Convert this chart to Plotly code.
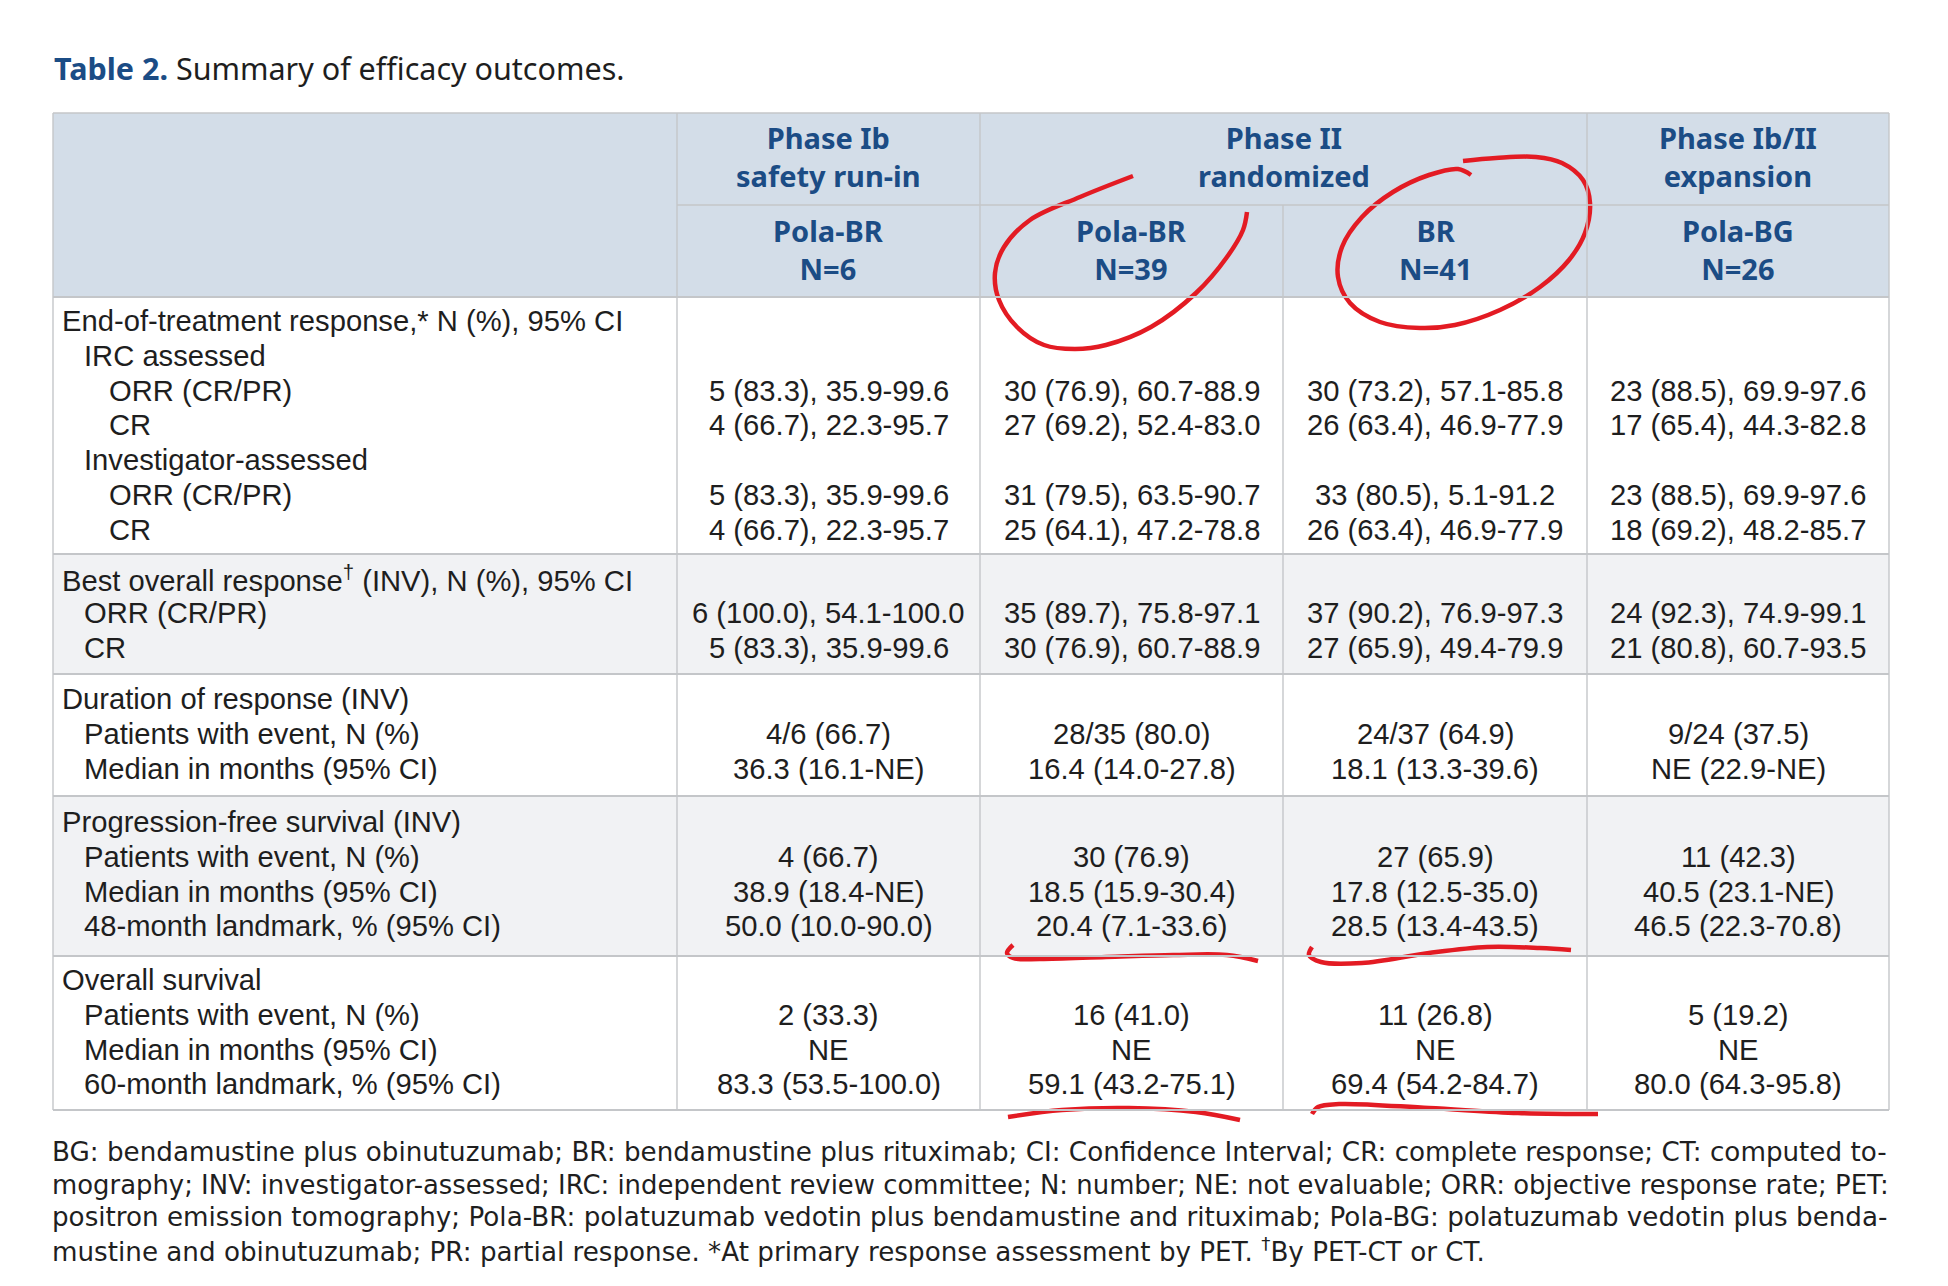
import plotly.graph_objects as go

# ---------------- data ----------------
title_bold = "Table 2."
title_rest = " Summary of efficacy outcomes."

top_headers = ["Phase Ib<br>safety run-in", "Phase II<br>randomized", "Phase Ib/II<br>expansion"]
arm_names = ["Pola-BR", "Pola-BR", "BR", "Pola-BG"]
arm_n = ["N=6", "N=39", "N=41", "N=26"]

row_labels = [
    "End-of-treatment response,* N (%), 95% CI", "IRC assessed", "ORR (CR/PR)", "CR",
    "Investigator-assessed", "ORR (CR/PR)", "CR",
    "Best overall response<sup>†</sup> (INV), N (%), 95% CI", "ORR (CR/PR)", "CR",
    "Duration of response (INV)", "Patients with event, N (%)", "Median in months (95% CI)",
    "Progression-free survival (INV)", "Patients with event, N (%)", "Median in months (95% CI)",
    "48-month landmark, % (95% CI)",
    "Overall survival", "Patients with event, N (%)", "Median in months (95% CI)",
    "60-month landmark, % (95% CI)",
]
row_indent = [0, 1, 2, 2, 1, 2, 2, 0, 1, 1, 0, 1, 1, 0, 1, 1, 1, 0, 1, 1, 1]
row_group = [0, 0, 0, 0, 0, 0, 0, 1, 1, 1, 2, 2, 2, 3, 3, 3, 3, 4, 4, 4, 4]

pola_br_ib = ["", "", "5 (83.3), 35.9-99.6", "4 (66.7), 22.3-95.7", "", "5 (83.3), 35.9-99.6",
              "4 (66.7), 22.3-95.7", "", "6 (100.0), 54.1-100.0", "5 (83.3), 35.9-99.6", "",
              "4/6 (66.7)", "36.3 (16.1-NE)", "", "4 (66.7)", "38.9 (18.4-NE)", "50.0 (10.0-90.0)",
              "", "2 (33.3)", "NE", "83.3 (53.5-100.0)"]
pola_br_ii = ["", "", "30 (76.9), 60.7-88.9", "27 (69.2), 52.4-83.0", "", "31 (79.5), 63.5-90.7",
              "25 (64.1), 47.2-78.8", "", "35 (89.7), 75.8-97.1", "30 (76.9), 60.7-88.9", "",
              "28/35 (80.0)", "16.4 (14.0-27.8)", "", "30 (76.9)", "18.5 (15.9-30.4)", "20.4 (7.1-33.6)",
              "", "16 (41.0)", "NE", "59.1 (43.2-75.1)"]
br_ii = ["", "", "30 (73.2), 57.1-85.8", "26 (63.4), 46.9-77.9", "", "33 (80.5), 5.1-91.2",
         "26 (63.4), 46.9-77.9", "", "37 (90.2), 76.9-97.3", "27 (65.9), 49.4-79.9", "",
         "24/37 (64.9)", "18.1 (13.3-39.6)", "", "27 (65.9)", "17.8 (12.5-35.0)", "28.5 (13.4-43.5)",
         "", "11 (26.8)", "NE", "69.4 (54.2-84.7)"]
pola_bg = ["", "", "23 (88.5), 69.9-97.6", "17 (65.4), 44.3-82.8", "", "23 (88.5), 69.9-97.6",
           "18 (69.2), 48.2-85.7", "", "24 (92.3), 74.9-99.1", "21 (80.8), 60.7-93.5", "",
           "9/24 (37.5)", "NE (22.9-NE)", "", "11 (42.3)", "40.5 (23.1-NE)", "46.5 (22.3-70.8)",
           "", "5 (19.2)", "NE", "80.0 (64.3-95.8)"]
columns = [pola_br_ib, pola_br_ii, br_ii, pola_bg]

footnote_lines = [
    "BG: bendamustine plus obinutuzumab; BR: bendamustine plus rituximab; CI: Confidence Interval; CR: complete response; CT: computed to-",
    "mography; INV: investigator-assessed; IRC: independent review committee; N: number; NE: not evaluable; ORR: objective response rate; PET:",
    "positron emission tomography; Pola-BR: polatuzumab vedotin plus bendamustine and rituximab; Pola-BG: polatuzumab vedotin plus benda-",
    "mustine and obinutuzumab; PR: partial response. *At primary response assessment by PET. <sup>†</sup>By PET-CT or CT.",
]

# hand-drawn red annotation strokes (pixel coordinates of the page)
stroke_circle_polabr_x = [1133, 1080, 1030, 1004, 995, 999, 1017, 1044, 1075, 1106, 1151, 1196, 1227, 1243, 1247]
stroke_circle_polabr_y = [176, 197, 220, 247, 273, 300, 327, 345, 349, 345, 327, 293, 257, 230, 212]
stroke_circle_br_x = [1463, 1496, 1536, 1562, 1583, 1590, 1585, 1569, 1540, 1500, 1455, 1420, 1380, 1350, 1338, 1342, 1362, 1393, 1429, 1458, 1471]
stroke_circle_br_y = [161, 158, 157, 163, 180, 203, 233, 260, 287, 310, 325, 328, 322, 303, 277, 247, 217, 192, 175, 169, 175]
stroke_ul_pfs_polabr_x = [1013, 1007, 1013, 1040, 1106, 1173, 1227, 1258]
stroke_ul_pfs_polabr_y = [945, 953, 958, 959, 957, 955, 955, 961]
stroke_ul_pfs_br_x = [1312, 1309, 1321, 1362, 1429, 1487, 1540, 1571]
stroke_ul_pfs_br_y = [947, 955, 962, 963, 953, 947, 948, 950]
stroke_ul_os_polabr_x = [1008, 1062, 1129, 1196, 1240]
stroke_ul_os_polabr_y = [1117, 1110, 1108, 1112, 1120]
stroke_ul_os_br_x = [1312, 1318, 1339, 1429, 1518, 1598]
stroke_ul_os_br_y = [1114, 1107, 1104, 1108, 1113, 1114]

# ---------------- layout constants ----------------
W, H = 1948, 1286
X0, X1 = 53, 1889
col_edges = [677, 980, 1283, 1587, 1889]
head_top, head_mid, head_bot = 113, 205, 297
top_head_cy, arm_head_cy = 156.5, 249
group_edges = [297, 554, 674, 796, 956, 1110]
group_first = [24, 24, 25, 26, 24]
pitch = 34.8
indent_x = [59.5, 82, 107]
foot_y = [1152, 1184.5, 1217, 1249.5]
foot_size = [26.2, 25.9, 26.2, 26.2]

HEADER_FILL = "#d3dde8"
ALT_FILL = "#f1f2f4"
GRID = "#c4c6c9"
BLUE = "#1b4c85"
TEXT = "#1e1e1e"
RED = "#e31b23"
BODY_FONT = "Liberation Sans, Arial, sans-serif"
HEAD_FONT = "Noto Sans, sans-serif"
FOOT_FONT = "DejaVu Sans, sans-serif"

fig = go.Figure()
shapes = []
annotations = []

# backgrounds
shapes.append(dict(type="rect", x0=X0, x1=X1, y0=head_top, y1=head_bot, fillcolor=HEADER_FILL, line_width=0, layer="below"))
for g in range(5):
    if g % 2 == 1:
        shapes.append(dict(type="rect", x0=X0, x1=X1, y0=group_edges[g], y1=group_edges[g + 1],
                           fillcolor=ALT_FILL, line_width=0, layer="below"))

def hline(y, xa, xb, w=1.6):
    shapes.append(dict(type="line", x0=xa, x1=xb, y0=y, y1=y, line=dict(color=GRID, width=w)))

def vline(x, ya, yb, w=1.4):
    shapes.append(dict(type="line", x0=x, x1=x, y0=ya, y1=yb, line=dict(color=GRID, width=w)))

# grid
hline(head_top, X0, X1)
hline(head_mid, col_edges[0], X1)
for y in group_edges:
    hline(y, X0, X1, 2)
vline(X0, head_top, group_edges[-1])
vline(X1, head_top, group_edges[-1])
vline(col_edges[0], head_top, group_edges[-1])
vline(col_edges[1], head_top, group_edges[-1])
vline(col_edges[3], head_top, group_edges[-1])
vline(col_edges[2], head_mid, group_edges[-1])

# title
annotations.append(dict(x=X0 - 1, y=68, xref="x", yref="y", xanchor="left", yanchor="middle", showarrow=False,
                        text=f"<span style='color:{BLUE}'><b>{title_bold}</b></span>{title_rest}",
                        font=dict(family=HEAD_FONT, size=30.5, color=TEXT)))

# headers
top_spans = [(col_edges[0], col_edges[1]), (col_edges[1], col_edges[3]), (col_edges[3], col_edges[4])]
for (a, b), t in zip(top_spans, top_headers):
    annotations.append(dict(x=(a + b) / 2, y=top_head_cy, xref="x", yref="y", showarrow=False,
                            xanchor="center", yanchor="middle", align="center", text=f"<b>{t}</b>",
                            font=dict(family=HEAD_FONT, size=29, color=BLUE)))
for i in range(4):
    cx = (col_edges[i] + col_edges[i + 1]) / 2
    annotations.append(dict(x=cx, y=arm_head_cy, xref="x", yref="y", showarrow=False,
                            xanchor="center", yanchor="middle", align="center",
                            text=f"<b>{arm_names[i]}<br>{arm_n[i]}</b>",
                            font=dict(family=HEAD_FONT, size=29, color=BLUE)))

# row positions
row_y = []
k_in_group = {}
for g in row_group:
    k = k_in_group.get(g, 0)
    row_y.append(group_edges[g] + group_first[g] + k * pitch)
    k_in_group[g] = k + 1

# labels
for lab, ind, y in zip(row_labels, row_indent, row_y):
    annotations.append(dict(x=indent_x[ind], y=y, xref="x", yref="y", showarrow=False,
                            xanchor="left", yanchor="middle", text=lab,
                            font=dict(family=BODY_FONT, size=29.2, color=TEXT)))

# cell values
for i, col in enumerate(columns):
    cx = (col_edges[i] + col_edges[i + 1]) / 2
    for v, y in zip(col, row_y):
        if v:
            annotations.append(dict(x=cx, y=y, xref="x", yref="y", showarrow=False,
                                    xanchor="center", yanchor="middle", text=v,
                                    font=dict(family=BODY_FONT, size=29.2, color=TEXT)))

# footnotes
for t, y, s in zip(footnote_lines, foot_y, foot_size):
    annotations.append(dict(x=X0 - 3, y=y, xref="x", yref="y", showarrow=False,
                            xanchor="left", yanchor="middle", text=t,
                            font=dict(family=FOOT_FONT, size=s, color="#1f1f1f")))

# red strokes
for xs, ys in [(stroke_circle_polabr_x, stroke_circle_polabr_y),
               (stroke_circle_br_x, stroke_circle_br_y),
               (stroke_ul_pfs_polabr_x, stroke_ul_pfs_polabr_y),
               (stroke_ul_pfs_br_x, stroke_ul_pfs_br_y),
               (stroke_ul_os_polabr_x, stroke_ul_os_polabr_y),
               (stroke_ul_os_br_x, stroke_ul_os_br_y)]:
    fig.add_trace(go.Scatter(x=xs, y=ys, mode="lines", line=dict(color=RED, width=4.5, shape="spline", smoothing=1.0),
                             hoverinfo="skip", showlegend=False))

fig.update_layout(
    width=W, height=H, margin=dict(l=0, r=0, t=0, b=0),
    paper_bgcolor="white", plot_bgcolor="white",
    xaxis=dict(range=[0, W], visible=False, fixedrange=True),
    yaxis=dict(range=[H, 0], visible=False, fixedrange=True),
    shapes=shapes, annotations=annotations, showlegend=False,
)

fig.write_html("out.html", post_script="document.body.style.margin='0';document.body.style.overflow='hidden';",
               config={"displayModeBar": False})
